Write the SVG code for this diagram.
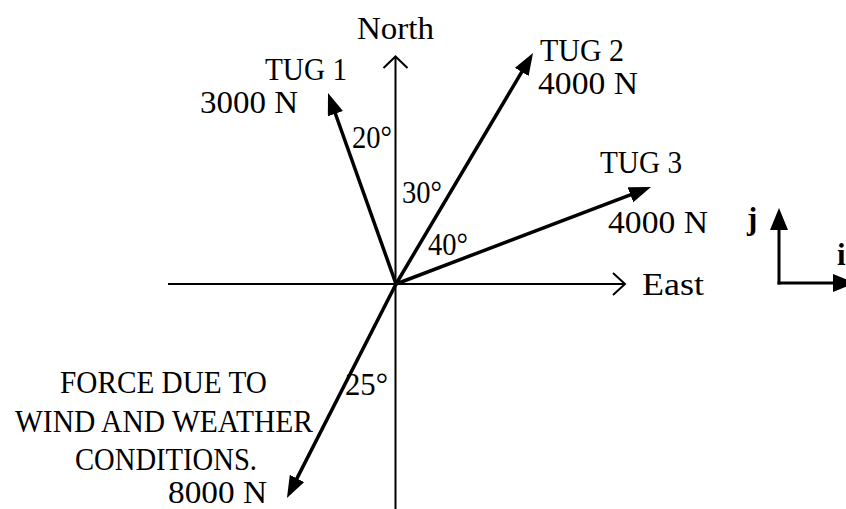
<svg xmlns="http://www.w3.org/2000/svg" width="846" height="509" viewBox="0 0 846 509">
<style>
text{font-family:"Liberation Serif","Times New Roman",serif;font-size:31px;fill:#000}
.b{font-weight:bold}
.axis{stroke:#000;stroke-width:2;fill:none}
.force{stroke:#000;stroke-width:3.5;fill:none;marker-end:url(#head)}
.unit{stroke:#000;stroke-width:3;fill:none;marker-end:url(#head2)}
</style>
<defs>
<marker id="head" markerUnits="userSpaceOnUse" markerWidth="24" markerHeight="18" refX="14" refY="8" orient="auto">
<path d="M0,0 L22,8 L0,16 Z" fill="#000"/>
</marker>
<marker id="head2" markerUnits="userSpaceOnUse" markerWidth="24" markerHeight="20" refX="14" refY="9" orient="auto">
<path d="M0,0 L22,9 L0,18 Z" fill="#000"/>
</marker>
</defs>
<rect width="846" height="509" fill="#fff"/>
<g id="connectors">
<path class="axis" d="M168,284 H625 M613,273 L625,284 L613,295"/>
<path class="axis" d="M395.5,509 V57 M383.5,68 L395.5,56.5 L407.5,68"/>
<line class="force" x1="396" y1="284" x2="330.7" y2="100.5"/>
<line class="force" x1="396" y1="284" x2="528.9" y2="59.9"/>
<line class="force" x1="396" y1="284" x2="643.5" y2="189.8"/>
<line class="force" x1="396" y1="284" x2="290.6" y2="490.9"/>
<path class="unit" d="M779,284.5 V216"/>
<path class="unit" d="M777.5,283 H847"/>
</g>
<g id="north"><text x="395.5" y="39" text-anchor="middle" textLength="77" lengthAdjust="spacingAndGlyphs">North</text></g>
<g id="east"><text x="642" y="295" textLength="62" lengthAdjust="spacingAndGlyphs">East</text></g>
<g id="tug1">
<text x="265" y="80" textLength="82" lengthAdjust="spacingAndGlyphs">TUG 1</text>
<text x="200" y="113" textLength="98" lengthAdjust="spacingAndGlyphs">3000 N</text>
</g>
<g id="tug2">
<text x="540" y="61" textLength="84" lengthAdjust="spacingAndGlyphs">TUG 2</text>
<text x="538" y="94" textLength="100" lengthAdjust="spacingAndGlyphs">4000 N</text>
</g>
<g id="tug3">
<text x="600" y="173" textLength="82" lengthAdjust="spacingAndGlyphs">TUG 3</text>
<text x="608" y="233" textLength="100" lengthAdjust="spacingAndGlyphs">4000 N</text>
</g>
<g id="angles">
<text x="352" y="148" textLength="40" lengthAdjust="spacingAndGlyphs">20°</text>
<text x="402" y="203" textLength="40" lengthAdjust="spacingAndGlyphs">30°</text>
<text x="428" y="255" textLength="40" lengthAdjust="spacingAndGlyphs">40°</text>
<text x="345" y="395" textLength="43" lengthAdjust="spacingAndGlyphs">25°</text>
</g>
<g id="wind">
<text x="60" y="393" textLength="207" lengthAdjust="spacingAndGlyphs">FORCE DUE TO</text>
<text x="15" y="432" textLength="298" lengthAdjust="spacingAndGlyphs">WIND AND WEATHER</text>
<text x="75" y="470" font-size="30" textLength="182" lengthAdjust="spacingAndGlyphs">CONDITIONS.</text>
<text x="168" y="503" font-size="26" textLength="99" lengthAdjust="spacingAndGlyphs">8000 N</text>
</g>
<g id="unit-vectors">
<text class="b" x="747" y="229" font-size="28">j</text>
<text class="b" x="837" y="265" font-size="26">i</text>
</g>
</svg>
